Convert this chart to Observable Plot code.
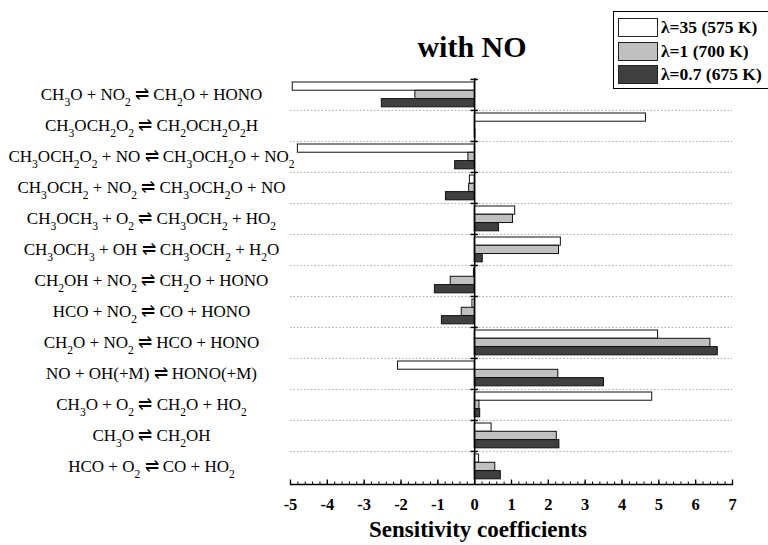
<!DOCTYPE html>
<html>
<head>
<meta charset="utf-8">
<script src="https://cdn.jsdelivr.net/npm/d3@7"></script>
<script src="https://cdn.jsdelivr.net/npm/@observablehq/plot@0.6"></script>
<style>
  html, body { margin: 0; padding: 0; background: #fff; }
  #wrap { position: relative; width: 768px; height: 545px; overflow: hidden; font-family: "Liberation Serif", "Times New Roman", serif; }
  #chart { position: absolute; left: 0; top: 0; }
  .title { position: absolute; left: 0; width: 944px; top: 27px; text-align: center; font-size: 30px; font-weight: bold; line-height: 40px; }
  .xlabel { position: absolute; left: 0; width: 956px; top: 516px; text-align: center; font-size: 23px; font-weight: bold; line-height: 28px; }
  .legend { position: absolute; left: 613px; top: 11px; width: 170px; height: 78px; border: 1px solid #000; box-sizing: border-box; }
  .item { position: absolute; left: 4px; height: 19px; display: flex; align-items: center; }
  .sw { width: 40px; height: 19px; border: 1px solid #222; box-sizing: border-box; margin-right: 3px; }
  .lt { font-size: 17.5px; font-weight: bold; white-space: nowrap; }
</style>
</head>
<body>
<div id="wrap">
  <div id="chart"></div>
  <div class="title">with NO</div>
  <div class="xlabel">Sensitivity coefficients</div>
  <div class="legend" id="legend"></div>
</div>
<script>
// Reactions (top to bottom); "_" marks a subscript digit
const reactions = [
  "CH_3O + NO_2 ⇌ CH_2O + HONO",
  "CH_3OCH_2O_2 ⇌ CH_2OCH_2O_2H",
  "CH_3OCH_2O_2 + NO ⇌ CH_3OCH_2O + NO_2",
  "CH_3OCH_2 + NO_2 ⇌ CH_3OCH_2O + NO",
  "CH_3OCH_3 + O_2 ⇌ CH_3OCH_2 + HO_2",
  "CH_3OCH_3 + OH ⇌ CH_3OCH_2 + H_2O",
  "CH_2OH + NO_2 ⇌ CH_2O + HONO",
  "HCO + NO_2 ⇌ CO + HONO",
  "CH_2O + NO_2 ⇌ HCO + HONO",
  "NO + OH(+M) ⇌ HONO(+M)",
  "CH_3O + O_2 ⇌ CH_2O + HO_2",
  "CH_3O ⇌ CH_2OH",
  "HCO + O_2 ⇌ CO + HO_2"
];
const series = ["λ=35 (575 K)", "λ=1 (700 K)", "λ=0.7 (675 K)"];
const lambda35 = [-4.94, 4.65, -4.80, -0.13, 1.10, 2.34, -0.02, -0.06, 4.98, -2.08, 4.82, 0.46, 0.12];
const lambda1  = [-1.61, 0.01, -0.17, -0.15, 1.04, 2.29, -0.65, -0.35, 6.40, 2.27, 0.13, 2.23, 0.56];
const lambda07 = [-2.52, 0.02, -0.53, -0.78, 0.66, 0.22, -1.08, -0.89, 6.60, 3.51, 0.15, 2.30, 0.71];
const seriesValues = [lambda35, lambda1, lambda07];
const seriesFills = ["#ffffff", "#c0c0c0", "#404040"];
const xTicks = [-5, -4, -3, -2, -1, 0, 1, 2, 3, 4, 5, 6, 7];
const xTickLabels = ["-5", "-4", "-3", "-2", "-1", "0", "1", "2", "3", "4", "5", "6", "7"];
const xMinorTicks = d3.ticks(-5, 7, 60);

const rows = reactions.flatMap((r, i) => series.map((s, k) => ({reaction: r, series: s, value: seriesValues[k][i]})));

const W = 768, H = 545, mT = 78, mB = 61, mL = 290, mR = 36, insetB = 2;
const bw = (H - mT - mB - insetB) / reactions.length;
const padTop = 3, barH = 8.3;

const barMarks = series.map((s, k) => Plot.barX(rows.filter(d => d.series === s), {
  x1: 0, x2: "value", y: "reaction",
  fill: seriesFills[k], stroke: "#111", strokeWidth: 1,
  insetTop: padTop + k * barH,
  insetBottom: bw - padTop - (k + 1) * barH
}));

const chart = Plot.plot({
  width: W, height: H,
  marginTop: mT, marginBottom: mB, marginLeft: mL, marginRight: mR,
  style: {fontFamily: "'Liberation Serif', 'Times New Roman', serif", fontSize: "15px", background: "#fff", color: "#000"},
  x: {domain: [-5, 7], label: null},
  y: {domain: reactions, padding: 0, insetBottom: insetB, axis: null},
  marks: [
    Plot.ruleY(reactions.slice(1), {y: d => d, dy: -bw / 2, stroke: "#aaa", strokeDasharray: "1.5,2"}),
    ...barMarks,
    Plot.ruleX([0], {stroke: "#000", strokeWidth: 1.5}),
    Plot.ruleY(reactions, {y: d => d, x1: -0.1, x2: 0.1, dy: -bw / 2, stroke: "#000", strokeWidth: 1.5}),
    Plot.frame({anchor: "bottom", stroke: "#000", strokeWidth: 1.3}),
    Plot.axisX(xMinorTicks, {anchor: "bottom", tickSize: -2.5, tickFormat: () => "", stroke: "#000"}),
    Plot.axisX(xTicks, {anchor: "bottom", tickSize: -4.5, tickFormat: () => "", stroke: "#000", strokeWidth: 1.3}),
    Plot.text(xTicks, {x: d => d, text: (d, i) => xTickLabels[i], frameAnchor: "bottom", dy: 20, fontSize: 16.5, fontWeight: "bold", fill: "#000", textAnchor: "middle", lineAnchor: "middle"}),
    Plot.text(reactions, {y: d => d, frameAnchor: "left", dx: 151 - mL, textAnchor: "middle", fontSize: 17, fontWeight: "normal", fill: "#000", text: d => d})
  ]
});
document.getElementById("chart").appendChild(chart);

// render subscripts as tspans
chart.querySelectorAll("text").forEach(t => {
  const s = t.textContent;
  if (!s.includes("_")) return;
  t.textContent = "";
  const NS = "http://www.w3.org/2000/svg";
  const parts = s.split(/(_\d)/).filter(p => p.length);
  let lowered = false;
  parts.forEach(p => {
    const ts = document.createElementNS(NS, "tspan");
    if (p.startsWith("_")) {
      ts.textContent = p.slice(1);
      ts.setAttribute("font-size", "0.68em");
      ts.setAttribute("dy", "0.45em");
      lowered = true;
    } else {
      ts.textContent = p;
      if (lowered) { ts.setAttribute("dy", "-0.306em"); lowered = false; }
    }
    t.appendChild(ts);
  });
});

// legend
const lg = document.getElementById("legend");
const tops = [6, 29.5, 53];
series.forEach((s, k) => {
  const it = document.createElement("div");
  it.className = "item";
  it.style.top = tops[k] + "px";
  it.innerHTML = `<div class="sw" style="background:${seriesFills[k]}"></div><span class="lt">${s}</span>`;
  lg.appendChild(it);
});
</script>
</body>
</html>
